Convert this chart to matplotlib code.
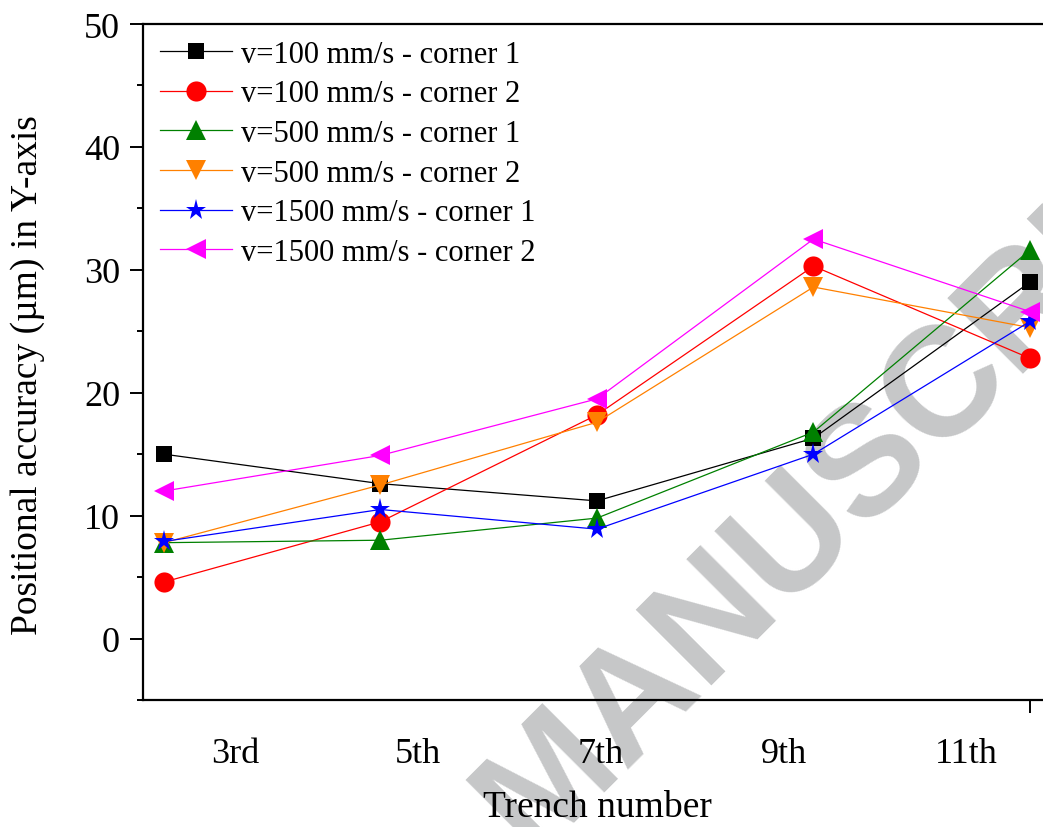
import matplotlib
matplotlib.use('Agg')
import matplotlib.pyplot as plt
import matplotlib.transforms as mtransforms

# data
trenches = ['3rd', '5th', '7th', '9th', '11th']
v100_c1 = [15.0, 12.6, 11.2, 16.3, 29.0]
v100_c2 = [4.6, 9.5, 18.2, 30.3, 22.8]
v500_c1 = [7.8, 8.0, 9.8, 16.8, 31.6]
v500_c2 = [7.8, 12.5, 17.6, 28.6, 25.3]
v1500_c1 = [7.9, 10.5, 8.9, 15.0, 25.8]
v1500_c2 = [12.0, 14.9, 19.5, 32.5, 26.6]

plt.rcParams['font.family'] = ['Liberation Serif', 'DejaVu Serif']

W, H = 1043, 828
fig = plt.figure(figsize=(W / 100, H / 100), dpi=100)
ax = fig.add_axes([143 / W, (H - 701) / H, (1062 - 143) / W, (701 - 25) / H])

x = list(range(len(trenches)))
series = [
    (v100_c1, 'v=100 mm/s - corner 1', 'black', 's', 12),
    (v100_c2, 'v=100 mm/s - corner 2', 'red', 'o', 14.5),
    (v500_c1, 'v=500 mm/s - corner 1', 'green', '^', 15),
    (v500_c2, 'v=500 mm/s - corner 2', '#ff8000', 'v', 15),
    (v1500_c1, 'v=1500 mm/s - corner 1', 'blue', '*', 15.5),
    (v1500_c2, 'v=1500 mm/s - corner 2', 'magenta', '<', 14.5),
]
for vals, lab, col, mk, ms in series:
    ax.plot(x, vals, color=col, lw=0.9, marker=mk, markersize=ms,
            markeredgewidth=0, label=lab, zorder=3)

ax.set_xlim(-0.097, 4.148)
ax.set_ylim(-5, 50)
ax.set_yticks([0, 10, 20, 30, 40, 50])
ax.set_yticks([-5, 5, 15, 25, 35, 45], minor=True)
ax.tick_params(axis='y', which='major', direction='out', length=9.5, width=1.4,
               labelsize=26, pad=7)
ax.tick_params(axis='y', which='minor', direction='out', length=4.5, width=1.4)
ax.set_xticks([4])
ax.set_xticklabels([''])
ax.tick_params(axis='x', direction='out', length=9.5, width=1.4)
for s in ax.spines.values():
    s.set_linewidth(1.6)

# category labels sit off the data positions in the original
label_x = [0.328 + 0.845 * i for i in range(len(trenches))]
trans = mtransforms.blended_transform_factory(ax.transData, ax.transAxes)
for lx, t in zip(label_x, trenches):
    ax.text(lx, -62 / 676, t, transform=trans, ha='center', va='baseline',
            fontsize=26, clip_on=False, zorder=4)

fig.text(597 / W, (H - 817) / H, 'Trench number', ha='center', va='baseline', fontsize=27)
fig.text(28 / W, (H - 375) / H, 'Positional accuracy (µm) in Y-axis', rotation=90,
         ha='center', va='center', fontsize=27)

leg = ax.legend(loc='upper left', bbox_to_anchor=(17 / 919, 0.977), frameon=False,
                fontsize=22, borderaxespad=0, borderpad=0, handlelength=2.35,
                handletextpad=0.3, labelspacing=0.35)

# watermark
ax.text(869 / W, (H - 460) / H, 'MANUSCRIPT', transform=fig.transFigure, rotation=45,
        ha='center', va='center', fontsize=112, fontweight='bold',
        family='Liberation Sans', color='#c6c7c8', zorder=1, clip_on=False)

fig.savefig('out.png', dpi=100)
